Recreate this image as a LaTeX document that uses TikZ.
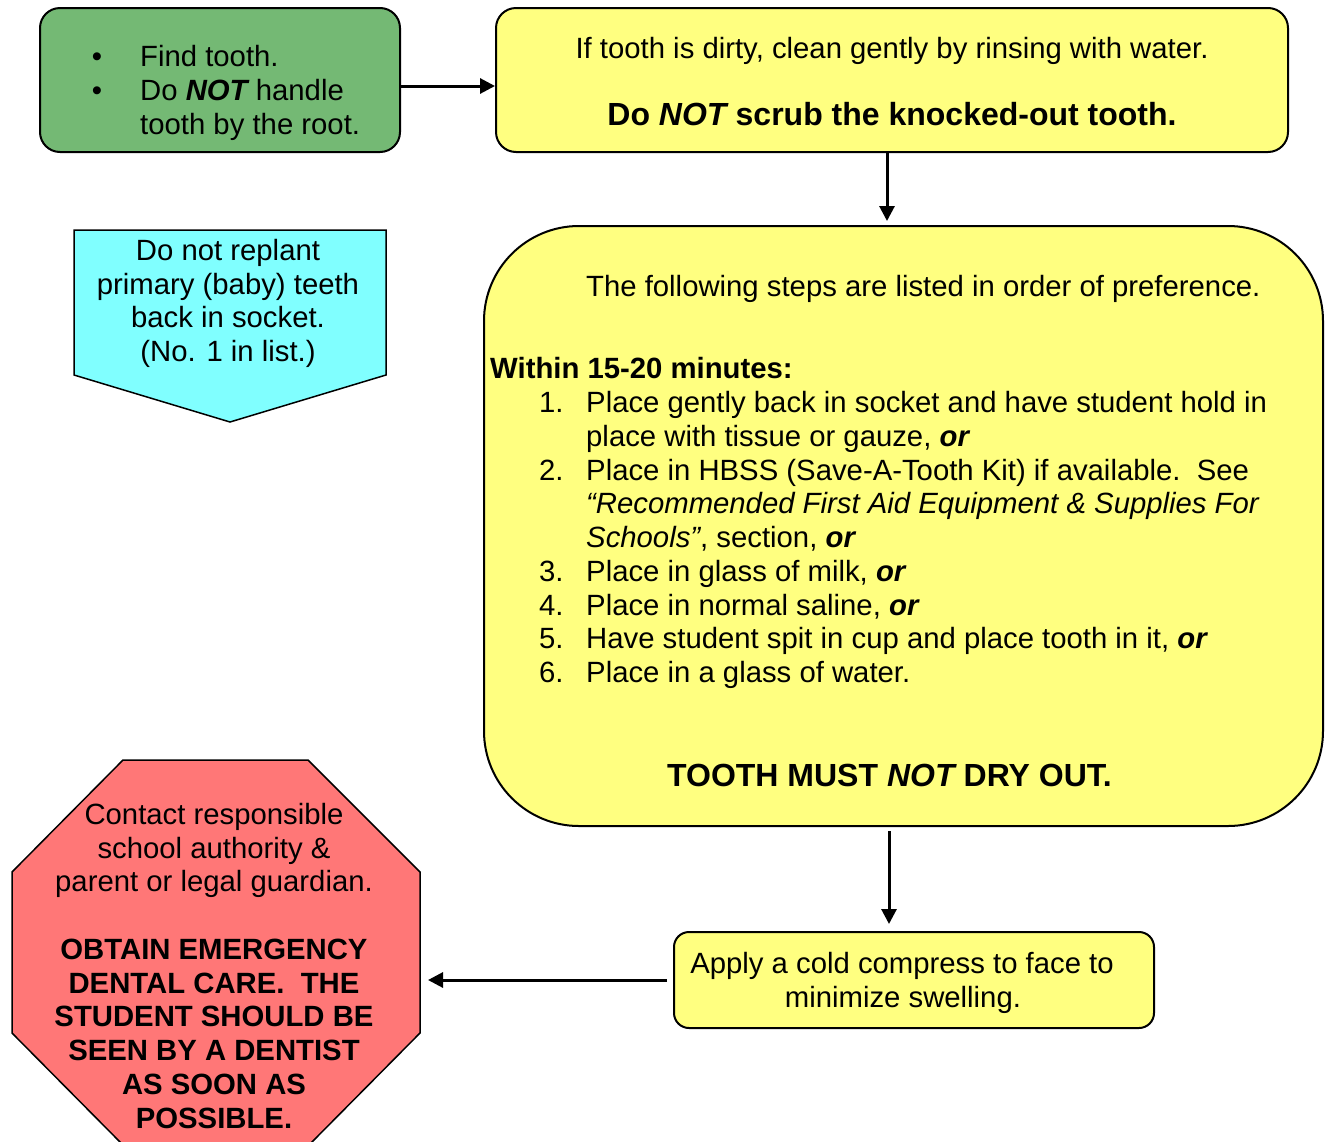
\documentclass[tikz,border=0pt]{standalone}
\usepackage{fontspec}
\setmainfont{Liberation Sans}
\usetikzlibrary{arrows.meta,calc}
\definecolor{boxgreen}{RGB}{116,185,116}
\definecolor{boxyellow}{RGB}{255,255,128}
\definecolor{boxcyan}{RGB}{128,255,255}
\definecolor{boxred}{RGB}{255,119,119}

\begin{document}
\begin{tikzpicture}[
    x=1pt, y=-1pt,
    box/.style={rectangle, draw, line width=2pt, rounded corners=20pt, fill=boxyellow, inner sep=0pt},
    txt/.style={inner sep=0pt, anchor=base, font=\fontsize{29.3}{34}\selectfont},
    txtl/.style={txt, anchor=base west},
    boldtxt/.style={txt, font=\fontsize{29.3}{34}\selectfont\bfseries},
    bigtxt/.style={txt, font=\fontsize{32}{38}\selectfont\bfseries},
    arrow/.style={-{Triangle[width=15pt,length=15pt]}, line width=3pt}
]
    \useasboundingbox (0,0) rectangle (1325,1141);

    % Boxes
    \node[box, fill=boxgreen, minimum width=360pt, minimum height=144pt] (find) at (220,80) {};
    \node[box, minimum width=792pt, minimum height=144pt] (rinse) at (892,80) {};
    \node[box, rounded corners=95pt, minimum width=839pt, minimum height=600pt] (steps) at (903.5,526) {};
    \node[box, rounded corners=15pt, minimum width=480pt, minimum height=96pt] (cold) at (914,980) {};

    % Primary teeth pentagon
    \draw[line width=1.5pt, fill=boxcyan] (74,230) -- (386,230) -- (386,375) -- (230,422) -- (74,375) -- cycle;

    % Stop sign
    \draw[line width=1.5pt, fill=boxred] (123,760) -- (308,760) -- (420,872) -- (420,1033)
        -- (309,1145) -- (123,1145) -- (12,1033) -- (12,872) -- cycle;
    \coordinate (redside) at (420,980);

    % Find tooth
    \node[txt] (bul1) at (97,66) {\textbullet};
    \node[txt] (bul2) at (97,100) {\textbullet};
    \node[txtl] (find1) at (140,66) {Find tooth.};
    \node[txtl] (find2) at (140,100) {Do \textbf{\textit{NOT}}\hspace{-2pt} handle};
    \node[txtl] (find3) at (140,134) {tooth by the root.};

    % Rinse
    \node[txt] (rinse1) at (892,58) {If tooth is dirty, clean gently by rinsing with water.};
    \node[bigtxt] (rinse2) at (892,125) {Do \textit{NOT}\hspace{-2pt} scrub the knocked-out tooth.};

    % Steps
    \node[txtl] (pref) at (586,296) {The following steps are listed in order of preference.};
    \node[boldtxt, anchor=base west] (within) at (490,378) {Within 15-20 minutes:};
    \node[txtl] (num1) at (539,412) {1.};
    \node[txtl] (num2) at (539,480) {2.};
    \node[txtl] (num3) at (539,581) {3.};
    \node[txtl] (num4) at (539,615) {4.};
    \node[txtl] (num5) at (539,648) {5.};
    \node[txtl] (num6) at (539,682) {6.};
    \node[txtl] (step1a) at (586,412) {Place gently back in socket and have student hold in};
    \node[txtl] (step1b) at (586,446) {place with tissue or gauze, \textbf{\textit{or}}};
    \node[txtl] (step2a) at (586,480) {Place in HBSS (Save-A-Tooth Kit) if available.\ \ See};
    \node[txtl] (step2b) at (586,513) {\textit{“Recommended First Aid Equipment \& Supplies For}};
    \node[txtl] (step2c) at (586,547) {\textit{Schools”}, section, \textbf{\textit{or}}};
    \node[txtl] (step3) at (586,581) {Place in glass of milk, \textbf{\textit{or}}};
    \node[txtl] (step4) at (586,615) {Place in normal saline, \textbf{\textit{or}}};
    \node[txtl] (step5) at (586,648) {Have student spit in cup and place tooth in it, \textbf{\textit{or}}};
    \node[txtl] (step6) at (586,682) {Place in a glass of water.};
    \node[bigtxt] (dry) at (889.5,786) {TOOTH MUST \textit{NOT}\hspace{-2pt} DRY OUT.};

    % Cold compress
    \node[txt] (cold1) at (902,973) {Apply a cold compress to face to};
    \node[txt] (cold2) at (903,1007) {minimize swelling.};

    % Primary teeth
    \node[txt] (prim1) at (228,260) {Do not replant};
    \node[txt] (prim2) at (228,294) {primary (baby) teeth};
    \node[txt] (prim3) at (228,327) {back in socket.};
    \node[txt] (prim4) at (228,361) {(No. 1 in list.)};

    % Contact
    \node[txt] (call1) at (214,824) {Contact responsible};
    \node[txt] (call2) at (214,858) {school authority \&};
    \node[txt] (call3) at (214,891) {parent or legal guardian.};
    \node[boldtxt] (care1) at (214,959) {OBTAIN EMERGENCY};
    \node[boldtxt] (care2) at (214,993) {DENTAL CARE.\ \ THE};
    \node[boldtxt] (care3) at (214,1026) {STUDENT SHOULD BE};
    \node[boldtxt] (care4) at (214,1060) {SEEN BY A DENTIST};
    \node[boldtxt] (care5) at (214,1094) {AS SOON AS};
    \node[boldtxt] (care6) at (214,1128) {POSSIBLE.};

    % Edges
    \draw[arrow] ([yshift=-6pt]find.east) -- ([yshift=-6pt]rinse.west);
    \draw[arrow, shorten >=4pt] ([xshift=-5pt]rinse.south) -- ([xshift=-5pt]rinse.south |- steps.north);
    \draw[arrow, shorten <=4pt, shorten >=7pt] ([xshift=-14.5pt]steps.south) -- ([xshift=-14.5pt]steps.south |- cold.north);
    \draw[arrow, shorten <=6pt, shorten >=8pt] (cold.west) -- (redside);
\end{tikzpicture}
\end{document}
